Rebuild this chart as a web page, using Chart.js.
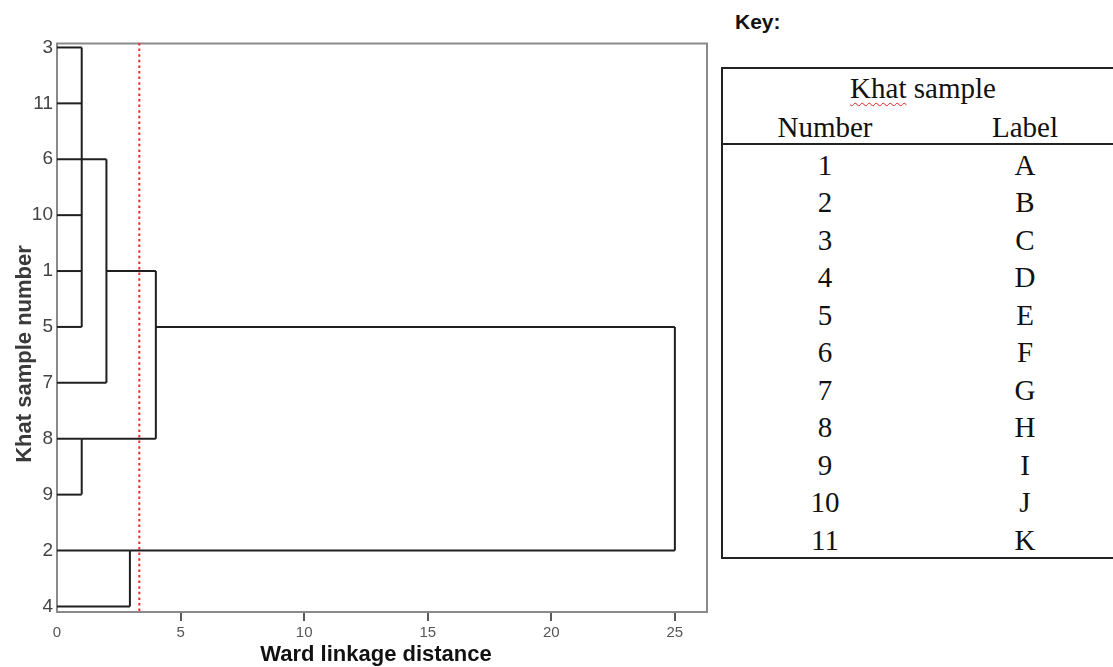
<!DOCTYPE html>
<html>
<head>
<meta charset="utf-8">
<title>Khat sample dendrogram</title>
<script src="https://cdn.jsdelivr.net/npm/chart.js@4/dist/chart.umd.min.js"></script>
<style>
  html, body { margin: 0; padding: 0; background: #fff; }
  #wrap { position: relative; width: 1113px; height: 667px; overflow: hidden; background: #fff; }
  #dendro { position: absolute; left: 0; top: 0; }
  .key-title { position: absolute; left: 735px; top: 10px; font: bold 21px "Liberation Sans", Arial, sans-serif; color: #111; }
  .key-box { position: absolute; left: 721px; top: 67px; width: 420px; height: 492px; box-sizing: border-box;
             border: 2px solid #222; }
  .key-rule { position: absolute; left: 721px; top: 143px; width: 400px; height: 2px; background: #222; }
  .cell { position: absolute; font: 29px "Liberation Serif", "Times New Roman", serif; color: #111;
          line-height: 1; white-space: nowrap; transform: translateX(-50%); }
  .spell { text-decoration: underline wavy #e02020; text-decoration-thickness: 1px; text-underline-offset: 4px; }
</style>
</head>
<body>
<div id="wrap">
  <canvas id="dendro" width="720" height="667"></canvas>
  <div class="key-title">Key:</div>
  <div class="key-box"></div>
  <div class="key-rule"></div>
  <div id="keyCells"></div>
</div>
<script>
// Leaf rows of the dendrogram, top to bottom, as printed on the vertical axis
const leafLabels = ['3', '11', '6', '10', '1', '5', '7', '8', '9', '2', '4'];

// Agglomeration steps: members ('L' = leaf row index, 'M' = earlier step),
// the Ward linkage distance of the join, and the row that carries the step's stem
const stepMembers  = [['L0', 'L1', 'L2', 'L3', 'L4', 'L5'], ['L7', 'L8'], ['M0', 'L6'], ['M2', 'M1'], ['L9', 'L10'], ['M3', 'M4']];
const stepDistance = [1.0, 1.0, 2.0, 4.0, 2.95, 25.0];
const stepStemRow  = [2, 7, 4, 5, 9, 5];

// Horizontal axis ticks and the cut-off distance shown as a dotted line
const distanceTicks = [0, 5, 10, 15, 20, 25];
const distanceMax = 26.3;
const cutDistance = 3.33;

// Key table contents
const keyNumbers = ['1', '2', '3', '4', '5', '6', '7', '8', '9', '10', '11'];
const keyLabels  = ['A', 'B', 'C', 'D', 'E', 'F', 'G', 'H', 'I', 'J', 'K'];

const rowMin = -0.08;
const rowMax = 10.1;

// Build the line segments of the tree from the steps
function memberStart(ref) {
  const idx = parseInt(ref.slice(1), 10);
  return ref[0] === 'L' ? { x: 0, row: idx } : { x: stepDistance[idx], row: stepStemRow[idx] };
}

const lineStyle = { borderColor: '#1f1f1f', borderWidth: 2, pointRadius: 0, showLine: true, fill: false, tension: 0 };
const datasets = [];
stepMembers.forEach((members, s) => {
  const d = stepDistance[s];
  const rows = [];
  members.forEach(ref => {
    const m = memberStart(ref);
    rows.push(m.row);
    datasets.push(Object.assign({ data: [{ x: m.x, y: m.row }, { x: d, y: m.row }] }, lineStyle));
  });
  datasets.push(Object.assign({ data: [{ x: d, y: Math.min(...rows) }, { x: d, y: Math.max(...rows) }] }, lineStyle));
});

// Dotted cut-off line across the full plot height
datasets.push({
  data: [{ x: cutDistance, y: rowMin }, { x: cutDistance, y: rowMax }],
  borderColor: '#ee2a2a', borderWidth: 2, borderDash: [2.5, 3.1], pointRadius: 0, showLine: true, fill: false
});

// Plot frame drawn under the tree, axis titles drawn on top
const framePlugin = {
  id: 'frame',
  beforeDatasetsDraw(chart) {
    const a = chart.chartArea;
    const ctx = chart.ctx;
    ctx.save();
    ctx.strokeStyle = '#8a8a8a';
    ctx.lineWidth = 2;
    ctx.strokeRect(a.left, a.top + 0.5, a.right - a.left, a.bottom - a.top - 0.5);
    ctx.restore();
  }
};

const titlePlugin = {
  id: 'axisTitles',
  afterDraw(chart) {
    const ctx = chart.ctx;
    ctx.save();
    ctx.font = 'bold 22px "Liberation Sans", Arial, sans-serif';
    ctx.textAlign = 'center';
    ctx.textBaseline = 'alphabetic';
    ctx.fillStyle = '#111';
    ctx.fillText('Ward linkage distance', 376, 661);
    ctx.translate(31, 354);
    ctx.rotate(-Math.PI / 2);
    ctx.fillStyle = '#3a3a3a';
    ctx.fillText('Khat sample number', 0, 0);
    ctx.restore();
  }
};

new Chart(document.getElementById('dendro'), {
  type: 'scatter',
  data: { datasets },
  plugins: [framePlugin, titlePlugin],
  options: {
    responsive: false,
    animation: false,
    layout: { padding: { left: 0, top: 43, right: 13, bottom: 0 } },
    plugins: { legend: { display: false }, tooltip: { enabled: false } },
    scales: {
      x: {
        type: 'linear',
        min: 0,
        max: distanceMax,
        afterFit(scale) { scale.height = 55; },
        afterBuildTicks(scale) { scale.ticks = distanceTicks.map(v => ({ value: v })); },
        border: { display: false },
        grid: {
          drawOnChartArea: false,
          drawTicks: true,
          tickLength: 9,
          lineWidth: 2,
          color: ctx => (ctx.tick && ctx.tick.value === 0) ? 'rgba(0,0,0,0)' : '#5a5a5a'
        },
        ticks: {
          padding: 3,
          maxRotation: 0,
          autoSkip: false,
          color: '#555',
          font: { family: '"Liberation Sans", Arial, sans-serif', size: 15 }
        }
      },
      y: {
        type: 'linear',
        reverse: true,
        min: rowMin,
        max: rowMax,
        afterFit(scale) { scale.width = 57; },
        afterBuildTicks(scale) { scale.ticks = leafLabels.map((_, i) => ({ value: i })); },
        border: { display: false },
        grid: { display: false, drawTicks: false },
        ticks: {
          padding: 4,
          autoSkip: false,
          color: '#444',
          font: { family: '"Liberation Sans", Arial, sans-serif', size: 19 },
          callback: v => leafLabels[v]
        }
      }
    }
  }
});

// Key table: header and one row per sample
const cells = document.getElementById('keyCells');
function placeCell(html, cx, baseline) {
  const el = document.createElement('div');
  el.className = 'cell';
  el.innerHTML = html;
  el.style.left = cx + 'px';
  el.style.top = (baseline - 24.3) + 'px';
  cells.appendChild(el);
}
placeCell('<span class="spell">Khat</span> sample', 923, 98);
placeCell('Number', 825, 137);
placeCell('Label', 1025, 137);
keyNumbers.forEach((n, i) => {
  const base = 175 + i * 37.5;
  placeCell(n, 825, base);
  placeCell(keyLabels[i], 1025, base);
});
</script>
</body>
</html>
